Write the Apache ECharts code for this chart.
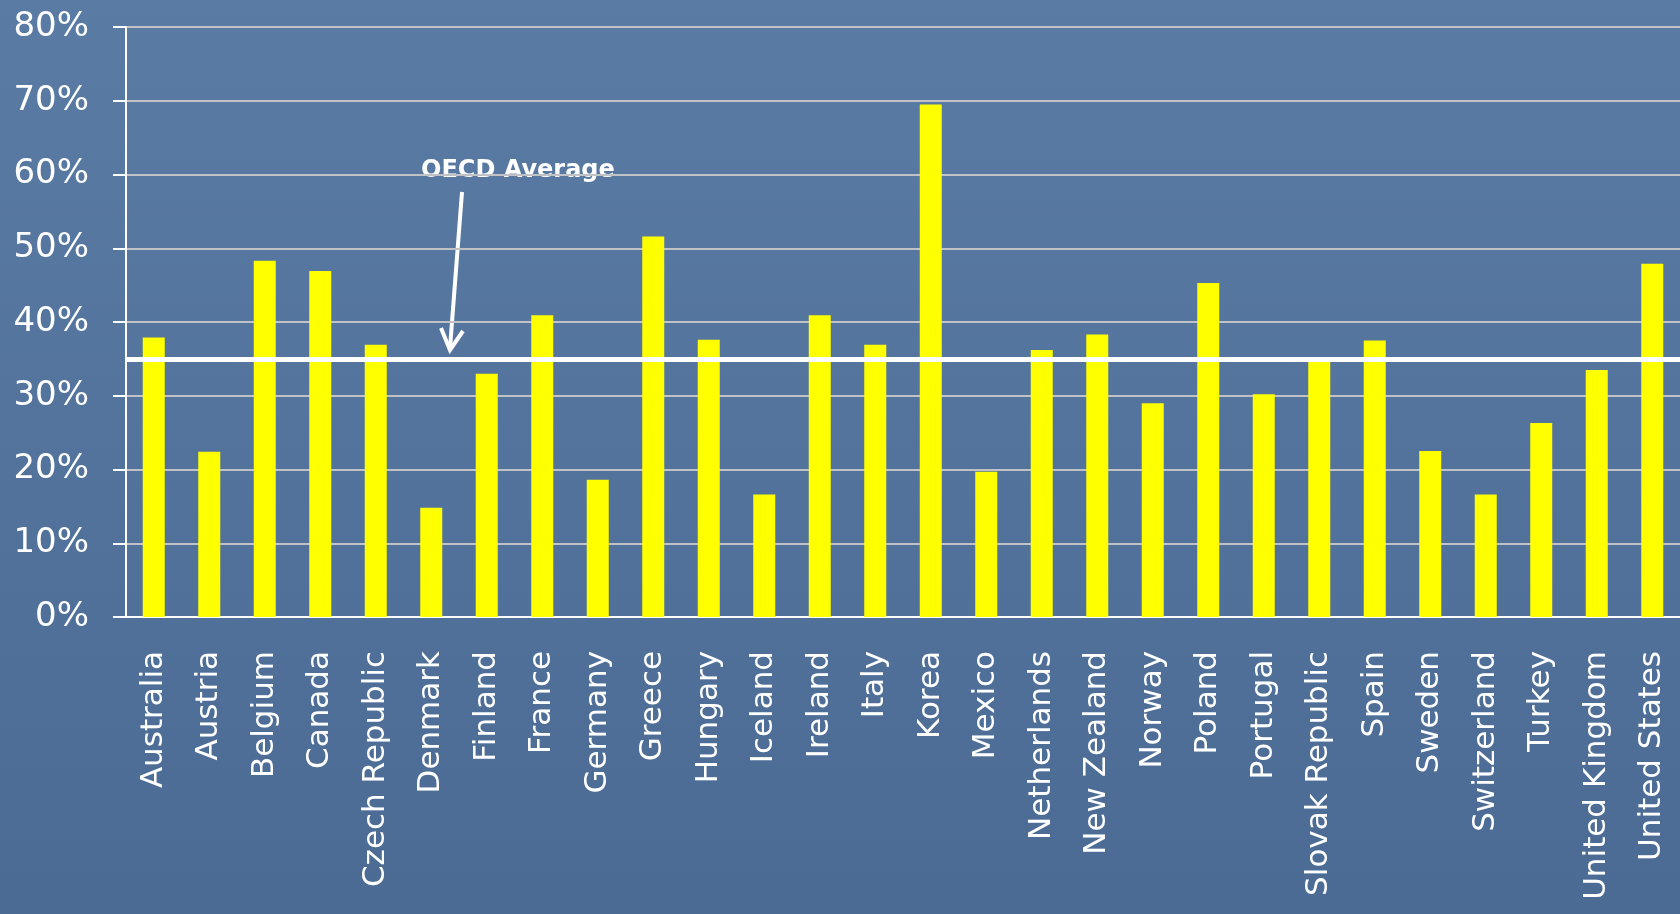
<!DOCTYPE html>
<html>
<head>
<meta charset="utf-8">
<title>OECD</title>
<script src="https://cdn.jsdelivr.net/npm/echarts@6/dist/echarts.min.js"></script>
<style>
    html, body {
        margin: 0;
        padding: 0;
    }
    #chart {
        width: 1680px;
        height: 914px;
    }
</style>
</head>
<body>
<div id="chart"></div>
<script>
    var countries = ['Australia', 'Austria', 'Belgium', 'Canada', 'Czech Republic', 'Denmark', 'Finland',
        'France', 'Germany', 'Greece', 'Hungary', 'Iceland', 'Ireland', 'Italy', 'Korea', 'Mexico',
        'Netherlands', 'New Zealand', 'Norway', 'Poland', 'Portugal', 'Slovak Republic', 'Spain',
        'Sweden', 'Switzerland', 'Turkey', 'United Kingdom', 'United States'];
    var shares = [37.9, 22.4, 48.3, 46.9, 36.9, 14.8, 33.0,
        40.9, 18.6, 51.6, 37.6, 16.6, 40.9, 36.9, 69.5, 19.7,
        36.2, 38.3, 29.0, 45.3, 30.2, 34.6, 37.5,
        22.5, 16.6, 26.3, 33.5, 47.9];
    var oecdAverage = 35.0;
    var yTicks = { min: 0, max: 80, step: 10 };
    var noteText = 'OECD Average';

    var chart = echarts.init(document.getElementById('chart'));
    chart.setOption({
        backgroundColor: {
            type: 'linear', x: 0, y: 0, x2: 0, y2: 1,
            colorStops: [
                { offset: 0, color: '#5a7ba4' },
                { offset: 1, color: '#4b6b94' }
            ]
        },
        textStyle: {
            fontFamily: 'DejaVu Sans'
        },
        grid: {
            left: 126,
            right: 0,
            top: 27,
            bottom: 297,
            containLabel: false
        },
        xAxis: {
            type: 'category',
            data: countries,
            axisLine: { lineStyle: { color: '#ffffff', width: 2 } },
            axisTick: { length: 14, lineStyle: { color: '#ffffff', width: 2 } },
            axisLabel: {
                rotate: 90,
                interval: 0,
                margin: 34,
                color: '#ffffff',
                fontSize: 31
            }
        },
        yAxis: {
            type: 'value',
            min: yTicks.min,
            max: yTicks.max,
            interval: yTicks.step,
            axisLine: { show: true, lineStyle: { color: '#ffffff', width: 2 } },
            axisTick: { show: true, length: 13, lineStyle: { color: '#ffffff', width: 2 } },
            axisLabel: {
                formatter: '{value}%',
                margin: 37,
                color: '#ffffff',
                fontSize: 34
            },
            splitLine: { lineStyle: { color: '#c0c2c6', width: 2 } }
        },
        series: [{
            type: 'bar',
            data: shares,
            barWidth: 22,
            itemStyle: { color: '#ffff00' },
            markLine: {
                silent: true,
                symbol: 'none',
                label: { show: false },
                lineStyle: { color: '#ffffff', width: 5, type: 'solid' },
                data: [{ yAxis: oecdAverage }]
            }
        }],
        graphic: [
            {
                type: 'text',
                left: 421,
                top: 159,
                style: {
                    text: noteText,
                    fill: '#ffffff',
                    font: 'bold 24px "DejaVu Sans"'
                }
            },
            {
                type: 'polyline',
                shape: { points: [[462, 192], [450, 348]] },
                style: { stroke: '#ffffff', lineWidth: 4 }
            },
            {
                type: 'polyline',
                shape: { points: [[441, 328], [450, 350], [463, 331]] },
                style: { stroke: '#ffffff', lineWidth: 4, fill: null }
            }
        ]
    });
</script>
</body>
</html>
